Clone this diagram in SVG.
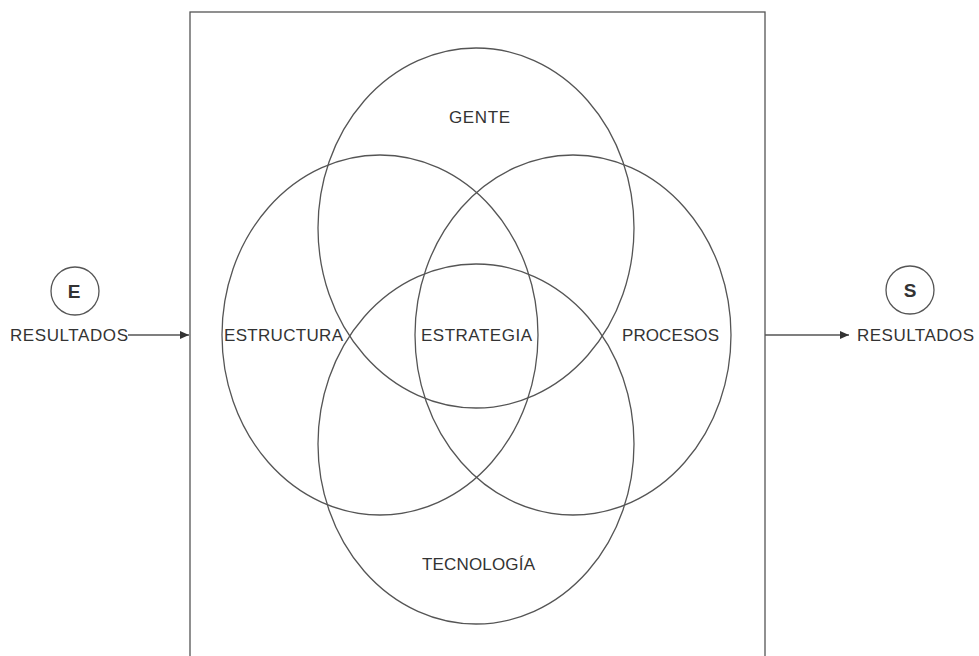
<svg xmlns="http://www.w3.org/2000/svg" width="979" height="656" viewBox="0 0 979 656">
<defs>
<style>
.ln{fill:none;stroke:#555;stroke-width:1.3}
.t{font-family:"Liberation Sans",Arial,sans-serif;font-size:17px;fill:#333}
.b{font-family:"Liberation Sans",Arial,sans-serif;font-size:19px;font-weight:bold;fill:#333;text-anchor:middle}
</style>
<marker id="ah" markerWidth="10" markerHeight="8" refX="9" refY="4" orient="auto" markerUnits="userSpaceOnUse">
<path d="M0,0 L9,4 L0,8 Z" fill="#333"/>
</marker>
</defs>
<rect width="979" height="656" fill="#fff"/>
<g id="frame"><rect class="ln" x="190" y="12" width="575" height="650" stroke-width="1.8"/></g>
<g id="gente"><ellipse class="ln" cx="476" cy="228" rx="158" ry="180"/><text class="t" x="449" y="123" textLength="61">GENTE</text></g>
<g id="estructura"><ellipse class="ln" cx="380" cy="335" rx="158" ry="180"/><text class="t" x="224" y="341" textLength="119">ESTRUCTURA</text></g>
<g id="procesos"><ellipse class="ln" cx="573" cy="335" rx="158" ry="180"/><text class="t" x="622" y="341" textLength="97">PROCESOS</text></g>
<g id="tecnologia"><ellipse class="ln" cx="476" cy="444" rx="158" ry="180"/><text class="t" x="422" y="570" textLength="113">TECNOLOGÍA</text></g>
<g id="estrategia"><text class="t" x="421" y="341" textLength="111">ESTRATEGIA</text></g>
<g id="entrada"><circle class="ln" cx="75" cy="291" r="24"/><text class="b" x="74" y="298">E</text><text class="t" x="10" y="341" textLength="118">RESULTADOS</text></g>
<g id="salida"><circle class="ln" cx="910" cy="290" r="24"/><text class="b" x="910" y="297">S</text><text class="t" x="857" y="341" textLength="117">RESULTADOS</text></g>
<g id="connectors">
<line class="ln" x1="128" y1="335" x2="189" y2="335" marker-end="url(#ah)"/>
<line class="ln" x1="765" y1="335" x2="849" y2="335" marker-end="url(#ah)"/>
</g>
</svg>
